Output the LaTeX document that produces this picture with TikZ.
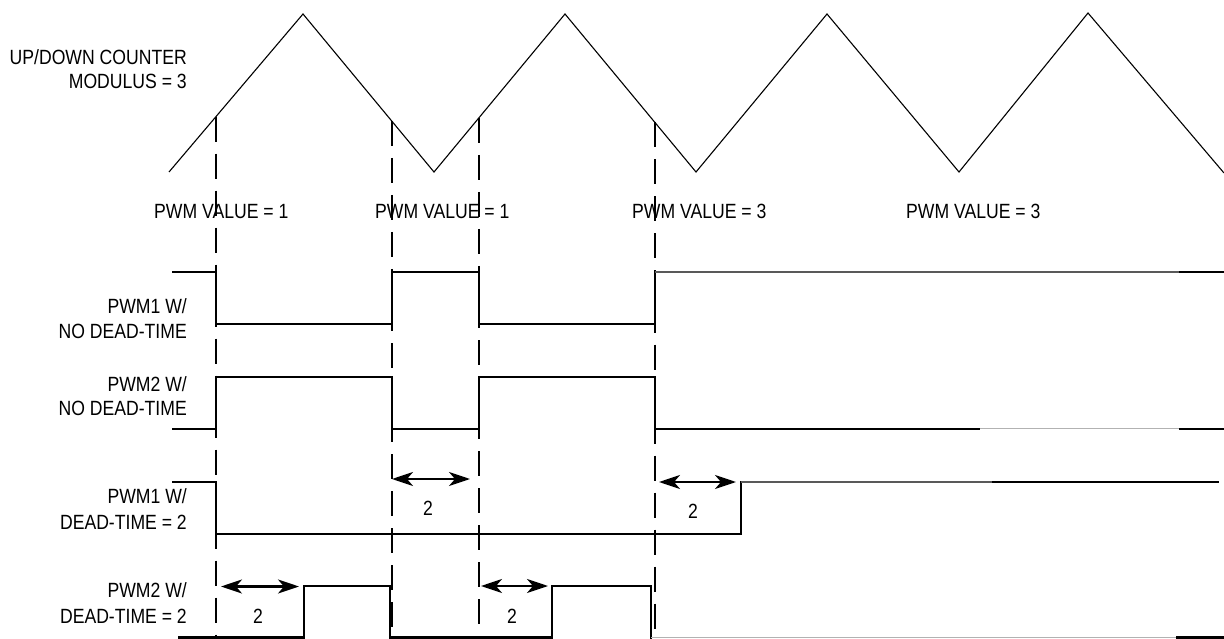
\documentclass[tikz,border=0pt]{standalone}
\usepackage{fontspec}
\newfontfamily\labfont{Liberation Sans}[FakeStretch=0.855]
\usetikzlibrary{arrows.meta}
\begin{document}
\begin{tikzpicture}[x=1pt,y=-1pt,
  lab/.style={inner sep=0pt, font=\labfont\fontsize{20.6}{24}\selectfont},
  tri/.style={line width=1.1pt, black},
  sig/.style={line width=2.2pt, line join=miter},
  faint/.style={line width=1.5pt, black!30},
  darkgrey/.style={line width=1.6pt, black!65},
  guide/.style={line width=2.2pt, dash pattern=on 25pt off 12pt},
  dim/.style={line width=2.2pt, {Stealth[length=21pt,width=14pt,inset=6pt]}-{Stealth[length=21pt,width=14pt,inset=6pt]}},
]
\useasboundingbox (0,0) rectangle (1224,639);

% counter triangle wave
\draw[tri] (169,172) -- (303,14) -- (434,172) -- (565,14) -- (696,172)
  -- (827,14) -- (959,172) -- (1088,13) -- (1224,173);

% labels
\node[lab, anchor=base east] (lc1) at (187,65) {UP/DOWN COUNTER};
\node[lab, anchor=base east] (lc2) at (187,89) {MODULUS = 3};
\node[lab, anchor=base west] (pv1) at (154,219) {PWM VALUE = 1};
\node[lab, anchor=base west] (pv2) at (375,219) {PWM VALUE = 1};
\node[lab, anchor=base west] (pv3) at (632,219) {PWM VALUE = 3};
\node[lab, anchor=base west] (pv4) at (906,219) {PWM VALUE = 3};

\node[lab, anchor=base east] (l1a) at (187,313) {PWM1 W/};
\node[lab, anchor=base east] (l1b) at (187,338) {NO DEAD-TIME};
\node[lab, anchor=base east] (l2a) at (187,391) {PWM2 W/};
\node[lab, anchor=base east] (l2b) at (187,415) {NO DEAD-TIME};
\node[lab, anchor=base east] (l3a) at (187,503) {PWM1 W/};
\node[lab, anchor=base east] (l3b) at (187,529) {DEAD-TIME = 2};
\node[lab, anchor=base east] (l4a) at (187,597) {PWM2 W/};
\node[lab, anchor=base east] (l4b) at (187,623) {DEAD-TIME = 2};

% dashed guide lines from the triangle down
\coordinate (g1t) at (216,116.6);   \coordinate (g1b) at (216,639);
\coordinate (g2t) at (391.7,121);   \coordinate (g2b) at (391.7,639);
\coordinate (g3t) at (479,118);     \coordinate (g3b) at (479,639);
\coordinate (g4t) at (655,122.5);   \coordinate (g4b) at (655,639);
\draw[guide] (g1t) -- (g1b);
\draw[guide] (g2t) -- (g2b);
\draw[guide] (g3t) -- (g3b);
\draw[guide] (g4t) -- (g4b);

% PWM1 no dead-time
\draw[sig] (172,272) -- (216,272) -- (216,323.7) -- (391.7,323.7) -- (391.7,272)
  -- (479,272) -- (479,323.7) -- (655,323.7) -- (655,272) -- (656,272);
\draw[darkgrey] (655,272) -- (1179,272);
\draw[sig] (1179,272) -- (1224,272);

% PWM2 no dead-time
\draw[sig] (172,428.7) -- (216,428.7) -- (216,377) -- (391.7,377) -- (391.7,428.7)
  -- (479,428.7) -- (479,377) -- (655,377) -- (655,428.7) -- (980,428.7);
\draw[faint] (980,428.7) -- (1179,428.7);
\draw[sig] (1179,428.7) -- (1224,428.7);

% PWM1 dead-time = 2
\draw[sig] (172,482) -- (216,482) -- (216,533.7) -- (741,533.7) -- (741,482) -- (742,482);
\draw[darkgrey] (741,482) -- (992,482);
\draw[sig] (992,482) -- (1219,482);

% PWM2 dead-time = 2
\draw[sig] (178,637.5) -- (304,637.5) -- (304,586) -- (390,586) -- (390,637.5)
  -- (552,637.5) -- (552,586) -- (651,586) -- (651,637.5) -- (652,637.5);
\draw[faint] (651,637.5) -- (1176,637.5);
\draw[sig] (1176,637.5) -- (1224,637.5);

% dead-time dimension arrows
\coordinate (a1l) at (392,479);   \coordinate (a1r) at (470,479);
\coordinate (a2l) at (659,482);   \coordinate (a2r) at (736,482);
\coordinate (a3l) at (221,586.5); \coordinate (a3r) at (299,586.5);
\coordinate (a4l) at (481,586);   \coordinate (a4r) at (548,586);
\draw[dim] (a1l) -- (a1r);
\draw[dim] (a2l) -- (a2r);
\draw[dim] (a3l) -- (a3r);
\draw[dim] (a4l) -- (a4r);
\node[lab, anchor=base] (d1) at (428,515) {2};
\node[lab, anchor=base] (d2) at (693,518) {2};
\node[lab, anchor=base] (d3) at (258,623) {2};
\node[lab, anchor=base] (d4) at (512,623) {2};
\end{tikzpicture}
\end{document}
